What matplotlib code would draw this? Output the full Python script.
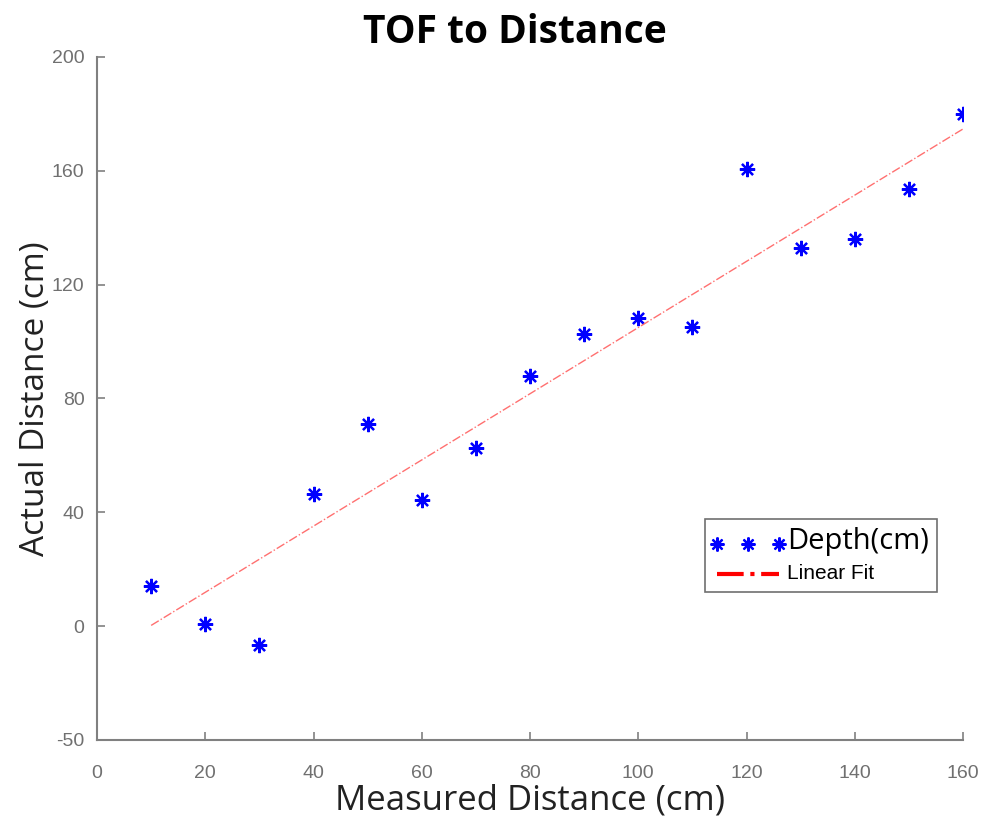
import numpy as np
import matplotlib.pyplot as plt
from matplotlib.lines import Line2D

measured = [10, 20, 30, 40, 50, 60, 70, 80, 90, 100, 110, 120, 130, 140, 150, 160]
actual = [14, 0.7, -6.7, 46.4, 71, 44.3, 62.6, 88, 102.8, 108.4, 105, 160.5, 133, 136, 153.5, 180]
yticks = [-40, 0, 40, 80, 120, 160, 200]
yticklabels = ['-50', '0', '40', '80', '120', '160', '200']
xticks = [0, 20, 40, 60, 80, 100, 120, 140, 160]

x = np.array(measured)
y = np.array(actual)
p = np.polyfit(x, y, 1)

fig = plt.figure(figsize=(9.83, 8.21), dpi=100)
ax = fig.add_axes([0.0987, 0.0987, 0.881, 0.832])

ax.plot(x, y, linestyle='none', marker=(8, 2, 0), markersize=11,
        markeredgewidth=1.6, color='#0000ff')
ax.plot(x, np.polyval(p, x), linestyle='-.', color='#ff7070', lw=1)

ax.set_xlim(0, 160)
ax.set_ylim(-40, 200)
ax.set_xticks(xticks)
ax.set_yticks(yticks)
ax.set_yticklabels(yticklabels)
for s in ['top', 'right']:
    ax.spines[s].set_visible(False)
for s in ['left', 'bottom']:
    ax.spines[s].set_color('#808080')
    ax.spines[s].set_linewidth(1.5)
ax.tick_params(direction='in', length=6, width=1.2, color='#808080',
               labelcolor='#707070', labelsize=14)
ax.tick_params(axis='x', pad=18)
ax.tick_params(axis='y', pad=9)
for lab in ax.get_xticklabels() + ax.get_yticklabels():
    lab.set_family('Liberation Sans')

ax.set_title('TOF to Distance', fontsize=28, fontweight='bold',
             family='Open Sans', pad=10, x=0.483)
ax.set_xlabel('Measured Distance (cm)', fontsize=25, family='Open Sans',
              color='#222222', labelpad=1)
ax.set_ylabel('Actual Distance (cm)', fontsize=24, family='Open Sans',
              color='#222222', labelpad=0)

handles = [Line2D([], [], linestyle='none', marker=(8, 2, 0), markersize=10,
                  markeredgewidth=1.6, color='#0000ff'),
           Line2D([], [], linestyle='-.', color='red', lw=3)]
leg = ax.legend(handles, ['Depth(cm)', 'Linear Fit'], loc='upper left',
                bbox_to_anchor=(0.702, 0.324), numpoints=3, fancybox=False,
                framealpha=1, edgecolor='#707070', handlelength=5.0,
                handletextpad=0.3, borderpad=0.6, labelspacing=0.6,
                borderaxespad=0)
leg.get_frame().set_linewidth(1.2)
leg.get_texts()[0].set_fontsize(21)
leg.get_texts()[0].set_family('Open Sans')
leg.get_texts()[1].set_fontsize(15)
leg.get_texts()[1].set_family('Liberation Sans')

fig.savefig('out.png', dpi=100)
